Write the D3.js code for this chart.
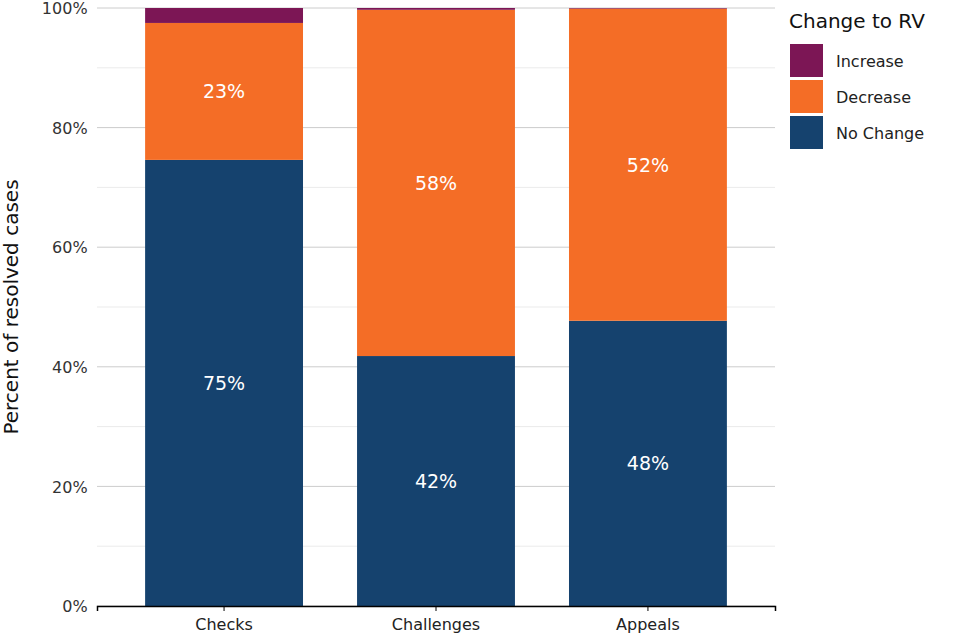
<!DOCTYPE html><html><head><meta charset="utf-8"><script src="https://d3js.org/d3.v7.min.js"></script>
<style>body{margin:0;background:#fff}text{font-family:"DejaVu Sans",sans-serif}</style></head><body>
<svg id="c" width="960" height="640"></svg>
<script>
const categories=["Checks","Challenges","Appeals"];
const noChange=[74.6,41.8,47.7];
const decrease=[22.9,57.9,52.2];
const increase=[2.5,0.3,0.1];
const seriesNames=["No Change","Decrease","Increase"];
const colors={"No Change":"#15426e","Decrease":"#f46d26","Increase":"#7c1655"};
const yTicks=[0,20,40,60,80,100];
const svg=d3.select("#c");
const m={l:97,r:775,t:8,b:606};
const x=d3.scaleBand().domain(categories).range([m.l,m.r]).paddingInner(0.255).paddingOuter(0.227);
const y=d3.scaleLinear().domain([0,100]).range([m.b,m.t]);
const g=svg.append("g");
d3.range(10,100,20).forEach(v=>g.append("line").attr("x1",m.l).attr("x2",m.r).attr("y1",y(v)).attr("y2",y(v)).attr("stroke","#ebebeb"));
yTicks.forEach(v=>g.append("line").attr("x1",m.l).attr("x2",m.r).attr("y1",y(v)).attr("y2",y(v)).attr("stroke","#cccccc"));
const rows=categories.map((c,i)=>({cat:c,"No Change":noChange[i],"Decrease":decrease[i],"Increase":increase[i]}));
const stack=d3.stack().keys(seriesNames)(rows);
stack.forEach(s=>{
  svg.append("g").selectAll("rect").data(s).join("rect")
    .attr("x",d=>x(d.data.cat)).attr("width",x.bandwidth())
    .attr("y",d=>y(d[1])).attr("height",d=>y(d[0])-y(d[1])).attr("fill",colors[s.key]);
  if(s.key!=="Increase"){
    svg.append("g").selectAll("text").data(s).join("text")
      .attr("x",d=>x(d.data.cat)+x.bandwidth()/2).attr("y",d=>y((d[0]+d[1])/2)+7)
      .attr("text-anchor","middle").attr("fill","#fff").attr("font-size",19)
      .text(d=>Math.round(d[1]-d[0])+"%");
  }
});
const ax=svg.append("g").attr("transform",`translate(0,${m.b})`).call(d3.axisBottom(x).tickSizeOuter(0).tickSize(5));
ax.select(".domain").attr("stroke","#000").attr("stroke-width",1.5);
ax.selectAll("text").attr("font-size",16).attr("fill","#222").attr("dy","1em");
const ay=svg.append("g").attr("transform",`translate(${m.l},0)`).call(d3.axisLeft(y).tickValues(yTicks).tickFormat(d=>d+"%").tickSize(0));
ay.select(".domain").remove();
ay.selectAll("text").attr("font-size",16).attr("fill","#333").attr("dx","-0.4em").attr("dy","0.35em");
svg.append("text").attr("transform",`translate(18,${(m.t+m.b)/2}) rotate(-90)`).attr("text-anchor","middle").attr("font-size",20).attr("fill","#111").text("Percent of resolved cases");
const lg=svg.append("g");
lg.append("text").attr("x",789).attr("y",28).attr("font-size",20).attr("fill","#111").text("Change to RV");
["Increase","Decrease","No Change"].forEach((k,i)=>{
  lg.append("rect").attr("x",790).attr("y",44+i*36).attr("width",33).attr("height",33).attr("fill",colors[k]);
  lg.append("text").attr("x",836).attr("y",67+i*36).attr("font-size",16).attr("fill","#222").text(k);
});
</script></body></html>
